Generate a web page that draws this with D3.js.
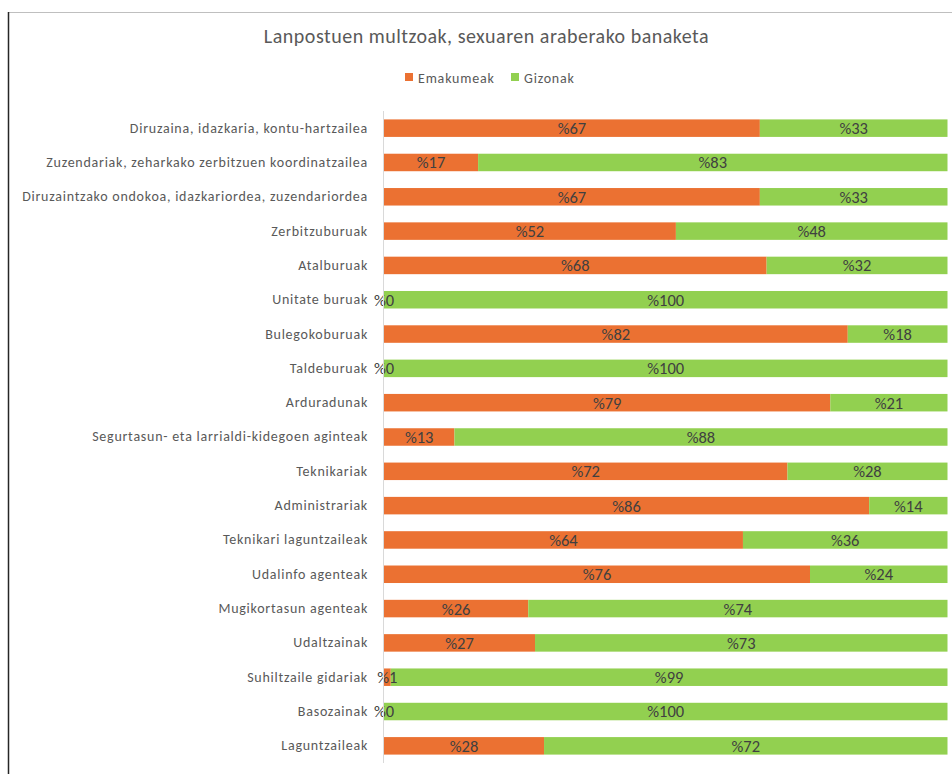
<!DOCTYPE html>
<html><head><meta charset="utf-8">
<script src="https://cdn.jsdelivr.net/npm/d3@7"></script>
<style>
html,body{margin:0;padding:0;background:#fff;}
svg{display:block;font-family:Carlito,Lato,"Open Sans",sans-serif;}
</style></head>
<body>
<svg id="c" width="952" height="774"></svg>
<script>
const title = "Lanpostuen multzoak, sexuaren araberako banaketa";
const categories = [
  "Diruzaina, idazkaria, kontu-hartzailea",
  "Zuzendariak, zeharkako zerbitzuen koordinatzailea",
  "Diruzaintzako ondokoa, idazkariordea, zuzendariordea",
  "Zerbitzuburuak",
  "Atalburuak",
  "Unitate buruak",
  "Bulegokoburuak",
  "Taldeburuak",
  "Arduradunak",
  "Segurtasun- eta larrialdi-kidegoen aginteak",
  "Teknikariak",
  "Administrariak",
  "Teknikari laguntzaileak",
  "Udalinfo agenteak",
  "Mugikortasun agenteak",
  "Udaltzainak",
  "Suhiltzaile gidariak",
  "Basozainak",
  "Laguntzaileak"
];
const seriesNames = ["Emakumeak", "Gizonak"];
const emakumeak = [66.7, 16.7, 66.7, 51.8, 67.9, 0, 82.3, 0, 79.2, 12.5, 71.6, 86.1, 63.7, 75.6, 25.6, 26.8, 1.2, 0, 28.4];
const gizonak   = [33.3, 83.3, 33.3, 48.2, 32.1, 100, 17.7, 100, 20.8, 87.5, 28.4, 13.9, 36.3, 24.4, 74.4, 73.2, 98.8, 100, 71.6];
const colors = ["#EB7132", "#92D050"];

const svg = d3.select("#c");
// chart frame
svg.append("line").attr("x1",8).attr("x2",952).attr("y1",12.5).attr("y2",12.5).attr("stroke","#BFBFBF").attr("stroke-width",1);
svg.append("line").attr("x1",8.5).attr("x2",8.5).attr("y1",12).attr("y2",774).attr("stroke","#262626").attr("stroke-width",1.5);

// title
svg.append("text").attr("x",486.5).attr("y",43).attr("text-anchor","middle")
  .attr("font-size",20).attr("letter-spacing",0.5).attr("fill","#595959").text(title);

// legend
const legX = [405, 511];
seriesNames.forEach((n,i)=>{
  svg.append("rect").attr("x",legX[i]).attr("y",73).attr("width",8).attr("height",8).attr("fill",colors[i]);
  svg.append("text").attr("x",legX[i]+13).attr("y",82.5).attr("font-size",14).attr("letter-spacing",0.8)
    .attr("fill","#595959").text(n);
});

const x = d3.scaleLinear().domain([0,100]).range([384,947.5]);
const y = d3.scaleBand().domain(categories).range([111,763]).paddingInner(0.49).paddingOuter(0.245);

const data = categories.map((c,i)=>({cat:c, Emakumeak:emakumeak[i], Gizonak:gizonak[i]}));
const stack = d3.stack().keys(seriesNames)(data);

const g = svg.append("g");
stack.forEach((s,si)=>{
  g.selectAll(null).data(s).enter().append("rect")
    .attr("x",d=>x(d[0])).attr("width",d=>x(d[1])-x(d[0]))
    .attr("y",d=>y(d.data.cat)).attr("height",y.bandwidth())
    .attr("fill",colors[si]);
});

// axis line
svg.append("line").attr("x1",383.5).attr("x2",383.5).attr("y1",111).attr("y2",763).attr("stroke","#D9D9D9").attr("stroke-width",1);

// category labels via axis
const ax = svg.append("g").attr("transform","translate(384,0)").call(d3.axisLeft(y).tickSize(0).tickPadding(16));
ax.select(".domain").remove();
ax.selectAll("text").attr("font-size",14).attr("letter-spacing",0.75).attr("fill","#595959")
  .attr("font-family","Carlito,Lato,sans-serif");

// data labels
stack.forEach((s,si)=>{
  g.selectAll(null).data(s).enter().append("text")
    .attr("x",d=>(x(d[0])+x(d[1]))/2)
    .attr("y",d=>y(d.data.cat)+y.bandwidth()/2)
    .attr("dy","0.36em").attr("text-anchor","middle")
    .attr("font-size",16.5).attr("fill","#404040")
    .text(d=>"%"+Math.round(d[1]-d[0]));
});
</script>
</body></html>
